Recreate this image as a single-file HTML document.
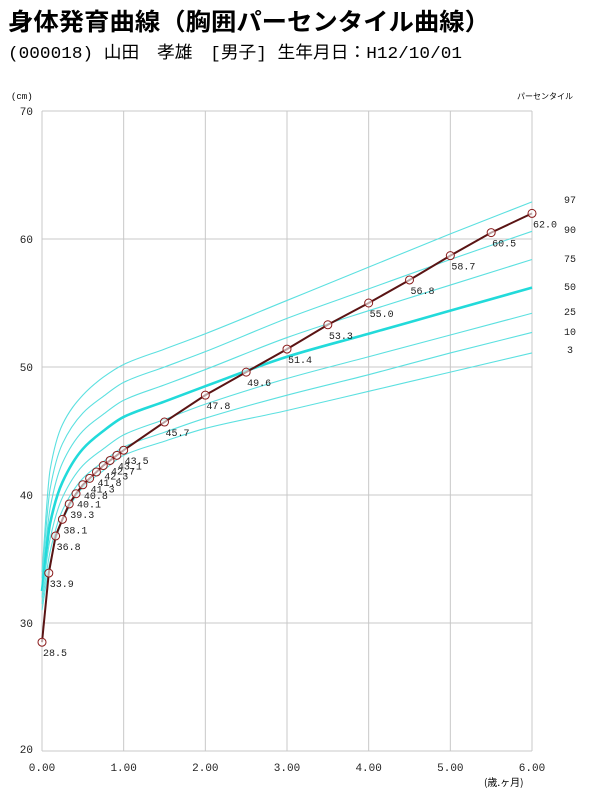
<!DOCTYPE html>
<html><head><meta charset="utf-8"><style>
body{margin:0;background:#fff;}
svg{display:block;}
text{font-family:"Liberation Mono","Noto Sans CJK JP",monospace;}
</style></head><body>
<svg id="chart" width="605" height="799" viewBox="0 0 605 799" xmlns="http://www.w3.org/2000/svg">
<text x="8" y="30" font-size="24" font-weight="bold" textLength="482" lengthAdjust="spacingAndGlyphs" style="font-family:'Noto Sans CJK JP',sans-serif">身体発育曲線（胸囲パーセンタイル曲線）</text>
<text x="8" y="58" font-size="17" textLength="454" lengthAdjust="spacingAndGlyphs" style="font-family:'Liberation Mono','Noto Sans CJK JP',monospace">(000018) 山田　孝雄　[男子] 生年月日：H12/10/01</text>
<text x="11" y="99" font-size="9">(cm)</text>
<text x="517" y="99" font-size="8" style="font-family:'Noto Sans CJK JP',sans-serif">パーセンタイル</text>
<text x="484" y="786" font-size="10" style="font-family:'Noto Sans CJK JP',sans-serif">(歳.ヶ月)</text>
<g id="grid"></g><g id="curves"></g><g id="child"></g><g id="labels"></g>
</svg>
<script>
const ages=[0,0.1,0.25,0.5,0.75,1,1.5,2,3,4,5,6];
const pctNames=["97","90","75","50","25","10","3"];
const p97=[34,42,45.5,47.8,49.2,50.2,51.4,52.6,55.2,57.8,60.4,62.9];
const p90=[33.5,40.5,44,46.4,47.7,48.8,50,51.2,53.8,56.1,58.4,60.6];
const p75=[33,39,42.5,45,46.3,47.4,48.6,49.8,52.3,54.4,56.4,58.4];
const p50=[32.5,37.8,41,43.6,45,46.1,47.3,48.5,50.8,52.6,54.4,56.2];
const p25=[32,36.6,39.8,42.3,43.6,44.7,45.9,47.1,49.1,50.8,52.5,54.2];
const p10=[31.5,35.6,38.8,41.3,42.6,43.75,44.9,46,47.8,49.4,51.1,52.7];
const p3=[31,34.8,38,40.6,41.9,43.1,44.2,45.2,46.6,48.1,49.6,51.1];
const childAges=[0,1/12,2/12,3/12,4/12,5/12,6/12,7/12,8/12,9/12,10/12,11/12,1,1.5,2,2.5,3,3.5,4,4.5,5,5.5,6];
const childVals=[28.5,33.9,36.8,38.1,39.3,40.1,40.8,41.3,41.8,42.3,42.7,43.1,43.5,45.7,47.8,49.6,51.4,53.3,55.0,56.8,58.7,60.5,62.0];
const xTicks=["0.00","1.00","2.00","3.00","4.00","5.00","6.00"];
const yTicks=[20,30,40,50,60,70];
const NS="http://www.w3.org/2000/svg";
const X=a=>42+a*(490/6);
const Y=v=>751-(v-20)*12.8;
function mk(tag,parent,attrs){const e=document.createElementNS(NS,tag);for(const k in attrs)e.setAttribute(k,attrs[k]);document.getElementById(parent).appendChild(e);return e;}
xTicks.forEach((t,i)=>{
 const l=mk('line','grid',{x1:X(i),x2:X(i),y1:Y(70),y2:Y(20),stroke:'#c8c8c8','stroke-width':1});
 
 
 const tx=mk('text','grid',{x:X(i),y:771,'font-size':11,'text-anchor':'middle',fill:'#222'});tx.textContent=t;
 
 
});
yTicks.forEach(v=>{
 const l=mk('line','grid',{x1:X(0),x2:X(6),y1:Y(v),y2:Y(v),stroke:'#c8c8c8','stroke-width':1});
 
 
 const tx=mk('text','grid',{x:33,y:Y(v)+(v===20?2:4),'font-size':11,'text-anchor':'end',fill:'#222'});tx.textContent=v;
 
 
});
const series=[p97,p90,p75,p50,p25,p10,p3];
const lblY=[199,229,258,286,311,331,349];
series.forEach((s,i)=>{
 const pts=ages.map((a,j)=>[X(a),Y(s[j])]);
 // monotone cubic (Fritsch-Carlson) to avoid overshoot
 const n=pts.length,dx=[],sl=[],m=[];
 for(let j=0;j<n-1;j++){dx[j]=pts[j+1][0]-pts[j][0];sl[j]=(pts[j+1][1]-pts[j][1])/dx[j];}
 m[0]=sl[0];m[n-1]=sl[n-2];
 for(let j=1;j<n-1;j++){m[j]=(sl[j-1]*sl[j]<=0)?0:2/(1/sl[j-1]+1/sl[j]);}
 let d='M'+pts[0][0]+','+pts[0][1];
 for(let j=0;j<n-1;j++){const h=dx[j]/3;
  d+=' C'+(pts[j][0]+h)+','+(pts[j][1]+m[j]*h)+' '+(pts[j+1][0]-h)+','+(pts[j+1][1]-m[j+1]*h)+' '+pts[j+1][0]+','+pts[j+1][1];}
 const pa=mk('path','curves',{d:d,fill:'none',stroke:i===3?'#22dada':'#5ce0e0','stroke-width':i===3?2.6:1.1});
 
 
 const tx=mk('text','labels',{x:570,y:lblY[i]+4,'font-size':10,'text-anchor':'middle',fill:'#222'});tx.textContent=pctNames[i];
 
 
});
const pl=mk('polyline','child',{points:childAges.map((a,j)=>X(a)+','+Y(childVals[j])).join(' '),fill:'none',stroke:'#5a1414','stroke-width':2});


childAges.forEach((a,j)=>{
 const c=mk('circle','child',{cx:X(a),cy:Y(childVals[j]),r:4,fill:'#fff','fill-opacity':0.6,stroke:'#8a1a1a','stroke-width':1});
 
 
 const tx=mk('text','labels',{x:X(a)+1,y:Y(childVals[j])+14,'font-size':10,fill:'#222'});tx.textContent=childVals[j].toFixed(1);
 
 
});
</script>
</body></html>
